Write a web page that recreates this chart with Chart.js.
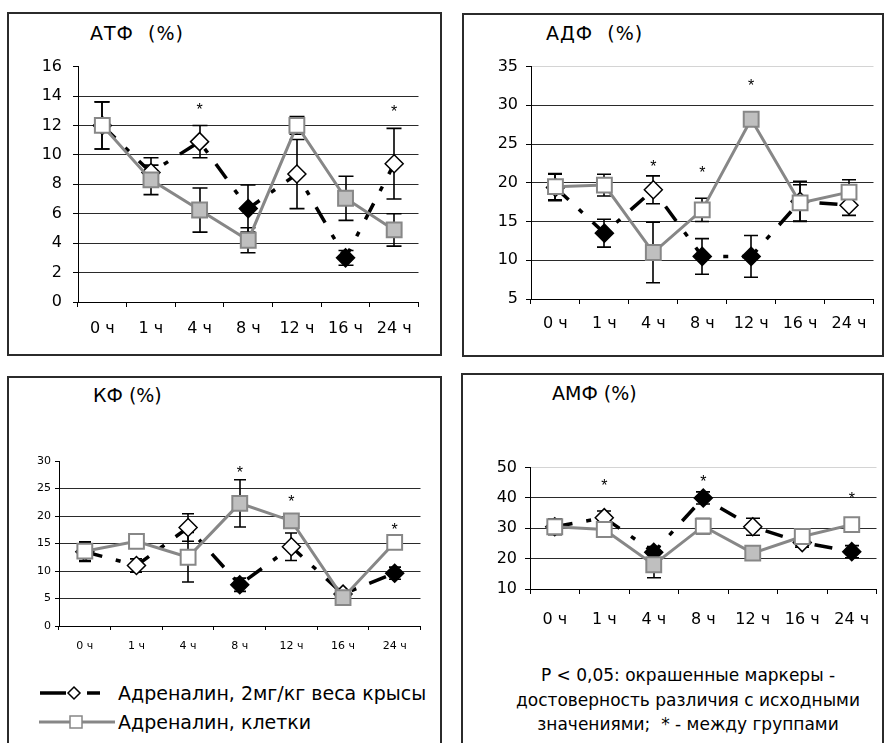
<!DOCTYPE html>
<html>
<head>
<meta charset="utf-8">
<script src="https://cdn.jsdelivr.net/npm/chart.js@4.4.0/dist/chart.umd.min.js"></script>
<style>
  body { margin: 0; width: 885px; height: 743px; overflow: hidden; position: relative; background: #fff;
         font-family: "DejaVu Sans", sans-serif; color: #000; }
  .panel { position: absolute; border: 2px solid #2b2b2b; box-sizing: border-box; }
  canvas { position: absolute; }
  .txt { position: absolute; white-space: pre; line-height: 1; }
</style>
</head>
<body>
<div class="panel" style="left:7px;top:12px;width:435px;height:344px"></div>
<div class="panel" style="left:462px;top:13px;width:422px;height:344px"></div>
<div class="panel" style="left:7px;top:376px;width:435px;height:400px"></div>
<div class="panel" style="left:461px;top:373px;width:423px;height:400px"></div>

<div class="txt" style="left:90px;top:24px;font-size:19px;letter-spacing:1px">АТФ  (%)</div>
<div class="txt" style="left:546px;top:24px;font-size:19px;letter-spacing:1px">АДФ  (%)</div>
<div class="txt" style="left:93px;top:386px;font-size:19px">КФ (%)</div>
<div class="txt" style="left:552px;top:384px;font-size:19px">АМФ (%)</div>

<svg style="position:absolute;left:0;top:670px" width="130" height="70">
  <line x1="40" y1="23" x2="66" y2="23" stroke="#000" stroke-width="3.5"/>
  <polygon points="74,17 80,23 74,29 68,23" fill="#fff" stroke="#000" stroke-width="1.5"/>
  <line x1="87" y1="23" x2="100" y2="23" stroke="#000" stroke-width="3.5"/>
  <line x1="39" y1="52" x2="115" y2="52" stroke="#878787" stroke-width="3"/>
  <rect x="70" y="46" width="12" height="12" fill="#fff" stroke="#878787" stroke-width="1.5"/>
</svg>
<div class="txt" style="left:118px;top:684px;font-size:19px">Адреналин, 2мг/кг веса крысы</div>
<div class="txt" style="left:118px;top:713px;font-size:19px">Адреналин, клетки</div>

<div class="txt" style="left:488px;width:400px;text-align:center;top:667px;font-size:17px">P &lt; 0,05: окрашенные маркеры -</div>
<div class="txt" style="left:488px;width:400px;text-align:center;top:692px;font-size:17px">достоверность различия с исходными</div>
<div class="txt" style="left:488px;width:400px;text-align:center;top:716px;font-size:17px">значениями;  * - между группами</div>

<script>
const hours = ['0 ч', '1 ч', '4 ч', '8 ч', '12 ч', '16 ч', '24 ч'];

// АТФ (%)
const atpRange    = [0, 16, 2];
const atpRat      = [12.0, 8.8, 10.9, 6.35, 8.7, 3.0, 9.4];
const atpRatErr   = [1.6, 1.0, 1.1, 1.6, 2.35, 0.5, 2.4];
const atpRatSig   = [0, 0, 0, 1, 0, 1, 0];
const atpCells    = [12.0, 8.3, 6.25, 4.2, 12.0, 7.05, 4.9];
const atpCellsErr = [1.6, 1.0, 1.5, 0.85, 0.6, 1.5, 1.1];
const atpCellsSig = [0, 1, 1, 1, 0, 1, 1];
const atpStars    = [null, null, 13.3, null, null, null, 13.2];

// АДФ (%)
const adpRange    = [5, 35, 5];
const adpRat      = [19.4, 13.5, 19.1, 10.5, 10.5, 17.6, 17.1];
const adpRatErr   = [1.7, 1.8, 1.8, 2.3, 2.7, 2.6, 1.3];
const adpRatSig   = [0, 1, 0, 1, 1, 0, 0];
const adpCells    = [19.5, 19.7, 11.0, 16.5, 28.2, 17.4, 18.8];
const adpCellsErr = [1.7, 1.4, 3.9, 1.5, 0.5, 2.35, 1.6];
const adpCellsSig = [0, 0, 1, 0, 1, 0, 0];
const adpStars    = [null, null, 22.6, 21.8, 33.0, null, null];

// КФ (%)
const kfRange     = [0, 30, 5];
const kfRat       = [13.5, 11.0, 17.9, 7.5, 14.4, 5.8, 9.6];
const kfRatErr    = [1.75, 1.2, 2.5, 1.2, 2.5, 0.6, 1.1];
const kfRatSig    = [0, 0, 0, 1, 0, 0, 1];
const kfCells     = [13.6, 15.4, 12.5, 22.3, 19.1, 5.15, 15.2];
const kfCellsErr  = [1.7, 0, 4.5, 4.3, 0, 0.6, 0];
const kfCellsSig  = [0, 0, 0, 1, 1, 1, 0];
const kfStars     = [null, null, null, 28.6, 23.2, null, 18.2];

// АМФ (%)
const amfRange    = [10, 50, 10];
const amfRat      = [30.5, 33.5, 22.1, 40.0, 30.5, 25.3, 22.3];
const amfRatErr   = [2.5, 2.2, 1.9, 2.0, 2.8, 1.5, 2.0];
const amfRatSig   = [0, 0, 1, 1, 0, 0, 1];
const amfCells    = [30.5, 29.6, 18.0, 30.7, 21.8, 27.3, 31.2];
const amfCellsErr = [2.5, 1.5, 4.3, 2.5, 1.0, 1.0, 1.0];
const amfCellsSig = [0, 0, 1, 0, 1, 0, 0];
const amfStars    = [null, 45.4, null, 46.7, null, null, 40.9];

const GREY_LINE = '#878787';
const GREY_FILL = '#bfbfbf';
const YW = 60, XH = 45, PT = 14, PR = 12;

// error bars under the markers, asterisks on top
function overlay(errs, stars, cap) {
    return {
        id: 'overlay',
        beforeDatasetsDraw(chart) {
            const { ctx } = chart, x = chart.scales.x, y = chart.scales.y;
            ctx.save();
            ctx.strokeStyle = '#000';
            ctx.lineWidth = 1.6;
            chart.data.datasets.forEach((ds, d) => {
                errs[d].forEach((e, i) => {
                    if (!e) return;
                    const px = Math.round(x.getPixelForValue(i));
                    const t = y.getPixelForValue(ds.data[i] + e);
                    const b = y.getPixelForValue(ds.data[i] - e);
                    ctx.beginPath();
                    ctx.moveTo(px, t); ctx.lineTo(px, b);
                    ctx.moveTo(px - cap, t); ctx.lineTo(px + cap, t);
                    ctx.moveTo(px - cap, b); ctx.lineTo(px + cap, b);
                    ctx.stroke();
                });
            });
            ctx.restore();
        },
        afterDatasetsDraw(chart) {
            const { ctx } = chart, x = chart.scales.x, y = chart.scales.y;
            ctx.save();
            ctx.fillStyle = '#000';
            ctx.font = '16px "Liberation Sans"';
            ctx.textAlign = 'center';
            ctx.textBaseline = 'alphabetic';
            stars.forEach((v, i) => {
                if (v == null) return;
                ctx.fillText('*', x.getPixelForValue(i), y.getPixelForValue(v) + 9);
            });
            ctx.restore();
        }
    };
}

function panel(box, p) {
    const cv = document.createElement('canvas');
    cv.width = box.R - box.L + YW + PR;
    cv.height = box.B - box.T + PT + XH;
    cv.style.left = (box.L - YW) + 'px';
    cv.style.top = (box.T - PT) + 'px';
    document.body.appendChild(cv);

    const [min, max, step] = p.range;
    return new Chart(cv, {
        type: 'line',
        data: {
            labels: hours,
            datasets: [
                {
                    label:                'Адреналин, клетки',
                    data:                 p.cells,
                    order:                0,
                    borderColor:          GREY_LINE,
                    borderWidth:          3,
                    tension:              0,
                    pointStyle:           'rect',
                    pointRadius:          10.5,
                    pointBorderWidth:     2,
                    pointBorderColor:     GREY_LINE,
                    pointBackgroundColor: p.cellsSig.map(s => s ? GREY_FILL : '#fff'),
                    clip:                 false,
                },
                {
                    label:                'Адреналин, 2мг/кг веса крысы',
                    data:                 p.rat,
                    order:                1,
                    borderColor:          '#000',
                    borderWidth:          3.5,
                    borderDash:           [18, 14, 5, 14],
                    tension:              0,
                    pointStyle:           'rectRot',
                    pointRadius:          p.dr,
                    pointBorderWidth:     1.5,
                    pointBorderColor:     '#000',
                    pointBackgroundColor: p.ratSig.map(s => s ? '#000' : '#fff'),
                    clip:                 false,
                },
            ],
        },
        options: {
            responsive:       false,
            animation:        false,
            devicePixelRatio: 1,
            layout: { padding: { top: PT, right: PR, left: 0, bottom: 0 } },
            plugins: { legend: { display: false }, tooltip: { enabled: false } },
            scales: {
                x: {
                    offset: true,
                    grid:   { offset: true, drawOnChartArea: false, color: '#000', tickLength: p.tl },
                    border: { color: '#000', width: 1 },
                    ticks:  { color: '#000', font: { family: 'DejaVu Sans', size: p.fs }, padding: p.xPad,
                              maxRotation: 0, autoSkip: false },
                    afterFit: s => { s.height = XH; },
                },
                y: {
                    min, max,
                    grid:   { color: c => c.tick.value === max ? p.topGrid : '#2a2a2a', tickColor: '#000', tickLength: p.tl },
                    border: { color: '#000', width: 1 },
                    ticks:  { stepSize: step, color: '#000', font: { family: 'DejaVu Sans', size: p.fs }, padding: p.yPad },
                    afterFit: s => { s.width = YW; },
                },
            },
        },
        plugins: [overlay([p.cellsErr, p.ratErr], p.stars, p.cap)],
    });
}

panel({ L: 78, R: 419, T: 60, B: 302 }, {
    range: atpRange, rat: atpRat, ratErr: atpRatErr, ratSig: atpRatSig,
    cells: atpCells, cellsErr: atpCellsErr, cellsSig: atpCellsSig, stars: atpStars,
    fs: 16, tl: 5, xPad: 12, yPad: 11, cap: 7.5, dr: 9, topGrid: 'rgba(0,0,0,0)',
});
panel({ L: 531, R: 874, T: 63, B: 299 }, {
    range: adpRange, rat: adpRat, ratErr: adpRatErr, ratSig: adpRatSig,
    cells: adpCells, cellsErr: adpCellsErr, cellsSig: adpCellsSig, stars: adpStars,
    fs: 16, tl: 5, xPad: 10, yPad: 8, cap: 7, dr: 9, topGrid: '#d4d4d4',
});
panel({ L: 59, R: 421, T: 461, B: 626 }, {
    range: kfRange, rat: kfRat, ratErr: kfRatErr, ratSig: kfRatSig,
    cells: kfCells, cellsErr: kfCellsErr, cellsSig: kfCellsSig, stars: kfStars,
    fs: 11, tl: 4, xPad: 10, yPad: 4, cap: 6, dr: 9, topGrid: 'rgba(0,0,0,0)',
});
panel({ L: 530, R: 877, T: 464, B: 589 }, {
    range: amfRange, rat: amfRat, ratErr: amfRatErr, ratSig: amfRatSig,
    cells: amfCells, cellsErr: amfCellsErr, cellsSig: amfCellsSig, stars: amfStars,
    fs: 16, tl: 5, xPad: 16, yPad: 8, cap: 7, dr: 9, topGrid: '#d4d4d4',
});
</script>
</body>
</html>
